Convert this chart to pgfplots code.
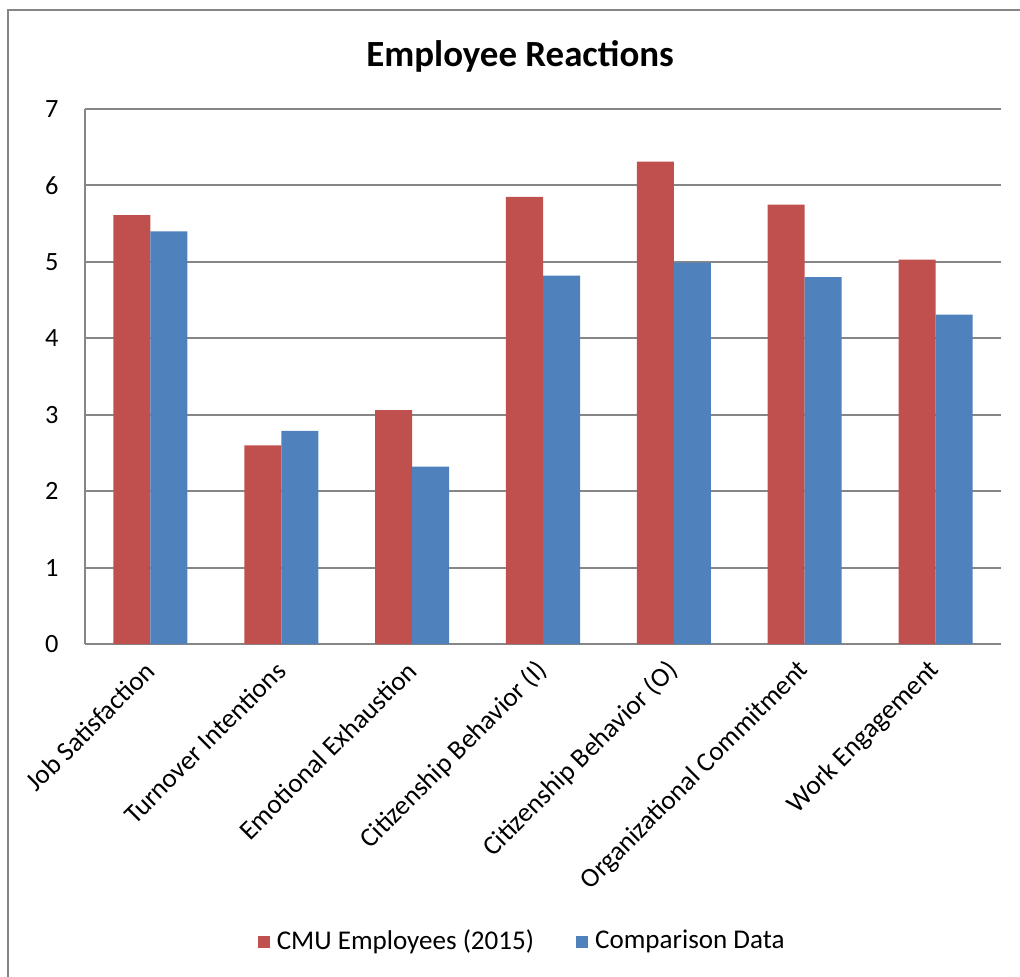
\documentclass[border=0pt]{standalone}
\usepackage{fontspec}
\setmainfont{Carlito}
\usepackage{pgfplots}
\pgfplotsset{compat=1.18}
\definecolor{cred}{HTML}{C0504D}
\definecolor{cblue}{HTML}{4F81BD}
\definecolor{cgrid}{HTML}{868686}
\begin{document}
\begin{tikzpicture}[x=1cm,y=1cm]
\begin{axis}[
  at={(0.85cm,3.32cm)}, anchor=south west,
  scale only axis, width=9.16cm, height=5.35cm,
  xmin=-0.5, xmax=6.5, ymin=0, ymax=7,
  ytick={0,...,7}, xtick={0,...,6},
  xticklabels={Job Satisfaction, Turnover Intentions, Emotional Exhaustion, Citizenship Behavior (I), Citizenship Behavior (O), Organizational Commitment, Work Engagement},
  ybar=0pt, bar width=0.283,
  ymajorgrids, grid style={cgrid, line width=0.6pt},
  axis x line*=bottom, axis y line*=left,
  axis line style={cgrid, line width=0.6pt, -},
  tick style={draw=none},
  /pgf/number format/assume math mode=true,
  ticklabel style={font=\fontsize{7.5}{9}\selectfont},
  yticklabel style={xshift=-0.14cm},
  xticklabel style={rotate=45, anchor=east, font=\fontsize{7.7}{9}\selectfont, xshift=0.07cm, yshift=-0.05cm},
  title={Employee Reactions},
  title style={font=\bfseries\fontsize{10.5}{12}\selectfont, at={(0.475,1.058)}, anchor=center},
  legend style={at={(0.48,-0.557)}, anchor=center, draw=none, legend columns=2,
    font=\fontsize{7.7}{9}\selectfont, /tikz/every even column/.append style={column sep=0.35cm}},
  legend image code/.code={\fill[#1] (0cm,-0.06cm) rectangle (0.12cm,0.06cm);},
]
\addplot[fill=cred, draw=none] coordinates {(0,5.61) (1,2.60) (2,3.06) (3,5.85) (4,6.31) (5,5.75) (6,5.03)};
\addplot[fill=cblue, draw=none] coordinates {(0,5.40) (1,2.79) (2,2.32) (3,4.82) (4,4.99) (5,4.80) (6,4.31)};
\legend{CMU Employees (2015), Comparison Data}
\end{axis}
\draw[cgrid, line width=0.6pt] (0.08,-0.5) |- (10.5,9.66);
\pgfresetboundingbox
\useasboundingbox (0,0) rectangle (10.2,9.76);
\end{tikzpicture}
\end{document}
